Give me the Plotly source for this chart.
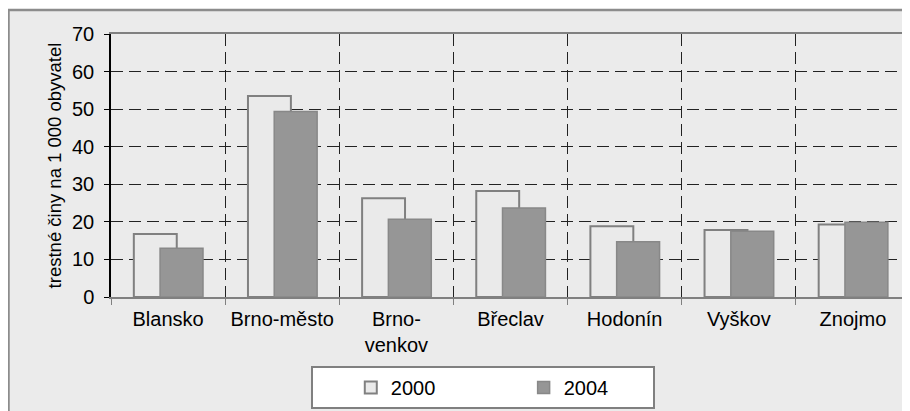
import plotly.graph_objects as go

categories = ["Blansko", "Brno-město", "Brno-<br>venkov", "Břeclav", "Hodonín", "Vyškov", "Znojmo"]
values_2000 = [16.8, 53.5, 26.3, 28.2, 18.8, 17.8, 19.3]
values_2004 = [13.0, 49.4, 20.7, 23.7, 14.7, 17.5, 19.9]
series_names = ["2000", "2004"]
y_title = "trestné činy na 1 000 obyvatel"

FONT = "Liberation Sans, Arial, sans-serif"
NB = "\u00a0"

fig = go.Figure()
fig.add_trace(go.Bar(
    x=categories, y=values_2000, name=series_names[0] + NB * 15,
    width=0.376, offset=-0.30,
    marker=dict(color="#EAEAEA", line=dict(color="#808080", width=2)),
))
fig.add_trace(go.Bar(
    x=categories, y=values_2004, name=series_names[1] + NB * 7,
    width=0.376, offset=-0.07,
    marker=dict(color="#969696", line=dict(color="#888888", width=1.5)),
))

fig.update_layout(
    width=902, height=403,
    margin=dict(l=103, r=0, t=26, b=114, autoexpand=False),
    barmode="overlay",
    paper_bgcolor="white",
    plot_bgcolor="white",
    font=dict(family=FONT, size=20, color="black"),
    showlegend=True,
    legend=dict(
        orientation="h",
        x=0.2503, xanchor="left",
        y=-0.2624, yanchor="top",
        bgcolor="white",
        bordercolor="#808080", borderwidth=2,
        font=dict(family=FONT, size=20, color="black"),
        title=dict(text=NB * 5, side="left", font=dict(family=FONT, size=20)),
        itemwidth=30,
    ),
    shapes=[dict(
        type="rect", xref="paper", yref="paper",
        x0=-0.1283, x1=1.05, y0=-0.6, y1=1.0913,
        line=dict(color="#8C8C8C", width=2.5),
        fillcolor="#EBEBEB", layer="below",
    )],
)

fig.update_xaxes(
    type="category",
    tickson="boundaries",
    showgrid=True, gridcolor="#222222", gridwidth=1, griddash="12px,6px",
    showline=True, linecolor="#808080", linewidth=2, mirror=True,
    ticks="outside", ticklen=6, tickcolor="#808080", tickwidth=1,
    ticklabelstandoff=3,
    tickfont=dict(family=FONT, size=20, color="black"),
)
fig.update_yaxes(
    range=[0, 70], dtick=10,
    showgrid=True, gridcolor="#222222", gridwidth=1, griddash="12px,6px",
    zeroline=False,
    showline=True, linecolor="#000000", linewidth=1.5,
    ticks="outside", ticklen=5, tickcolor="#000000", tickwidth=1,
    ticklabelstandoff=6,
    tickfont=dict(family=FONT, size=20, color="black"),
    title=dict(text=y_title, font=dict(family=FONT, size=18.5, color="black"), standoff=6),
)

fig.write_html("out.html")
